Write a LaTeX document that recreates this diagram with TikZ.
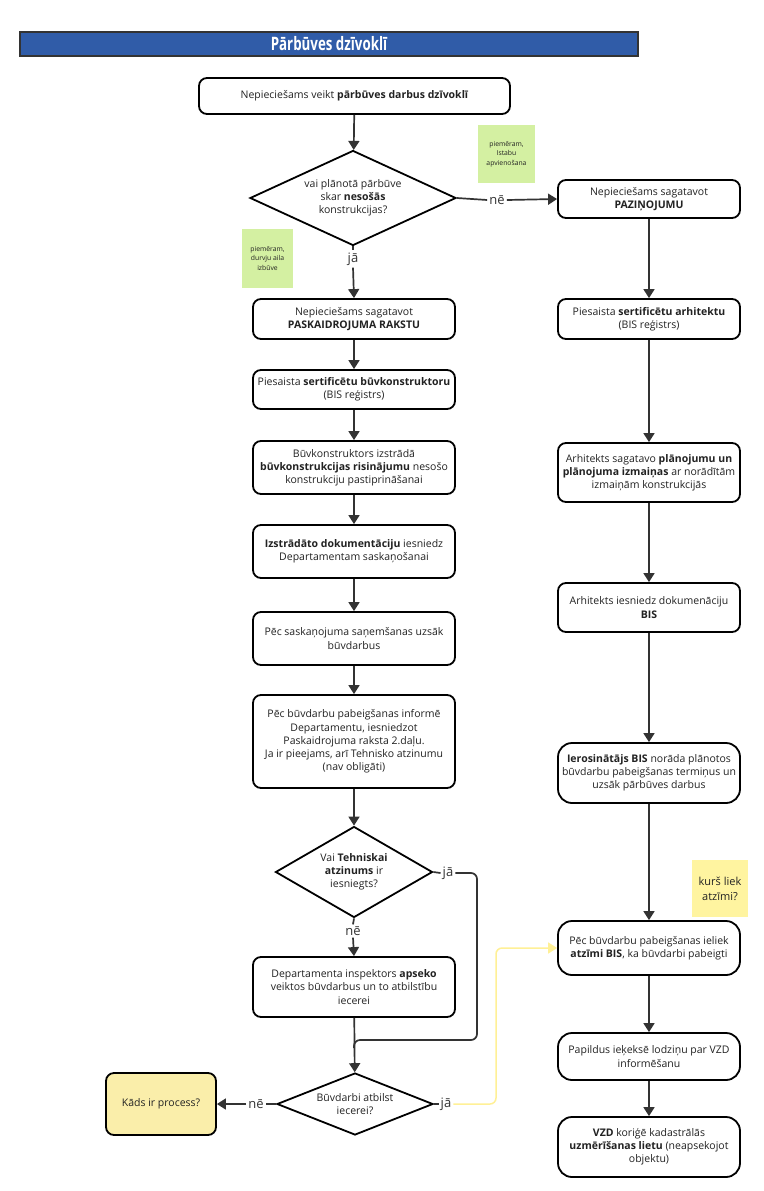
\documentclass[tikz,border=0pt]{standalone}
\usepackage{fontspec}
\setmainfont{Open Sans}
\newfontfamily\titlefont[FakeStretch=0.72]{Open Sans Bold}
\usetikzlibrary{shapes.geometric,arrows.meta}
\definecolor{titleblue}{RGB}{48,92,168}
\definecolor{ink}{RGB}{34,34,34}
\definecolor{arr}{RGB}{51,51,51}
\definecolor{notegreen}{RGB}{212,240,162}
\definecolor{noteyellow}{RGB}{255,244,160}
\definecolor{boxyellow}{RGB}{250,238,170}
\definecolor{lineyellow}{RGB}{255,240,150}
\begin{document}
\begin{tikzpicture}[x=1pt,y=-1pt,
  every node/.style={text=ink},
  bx/.style={draw=black,line width=1.8pt,rounded corners=8pt,fill=white,align=center,inner sep=0pt,font=\fontsize{10.5}{13.2}\selectfont},
  bxr/.style={bx,rounded corners=14pt},
  dia/.style={draw=black,line width=1.8pt,diamond,aspect=2,inner sep=0pt,align=center,fill=white,font=\fontsize{10.5}{13.2}\selectfont},
  note/.style={fill=notegreen,align=center,inner sep=0pt,font=\fontsize{6.8}{9.5}\selectfont},
  lbl/.style={font=\fontsize{13}{15}\selectfont,inner sep=2pt,text=arr},
  conn/.style={draw=arr,line width=1.7pt},
  arw/.style={conn,-{Triangle[length=9pt,width=11pt]}},
]
\useasboundingbox (0,0) rectangle (763,1191);
\fill[white] (0,0) rectangle (763,1191);

% title
\node[draw=arr,line width=1.2pt,fill=titleblue,minimum width=618pt,minimum height=24pt,inner sep=0pt,font=\titlefont\fontsize{18.5}{20}\selectfont,text=white] (title) at (329,44) {Pārbūves dzīvoklī};

% left column
\node[bx,minimum width=311pt,minimum height=36pt] (b1) at (354.5,96) {Nepieciešams veikt \textbf{pārbūves darbus dzīvoklī}};
\node[dia,minimum width=206pt,minimum height=95pt] (d1) at (353,198) {vai plānotā pārbūve\\skar \textbf{nesošās}\\konstrukcijas?};
\node[bx,minimum width=202pt,minimum height=40pt] (L1) at (354,319) {Nepieciešams sagatavot\\\textbf{PASKAIDROJUMA RAKSTU}};
\node[bx,minimum width=202pt,minimum height=39pt] (L2) at (354,389.5) {Piesaista \textbf{sertificētu būvkonstruktoru}\\(BIS reģistrs)};
\node[bx,minimum width=202pt,minimum height=53pt] (L3) at (354,467.5) {Būvkonstruktors izstrādā\\\textbf{būvkonstrukcijas risinājumu} nesošo\\konstrukciju pastiprināšanai};
\node[bx,minimum width=202pt,minimum height=53pt] (L4) at (354,551.5) {\textbf{Izstrādāto dokumentāciju} iesniedz\\Departamentam saskaņošanai};
\node[bx,minimum width=202pt,minimum height=53pt] (L5) at (354,638.5) {Pēc saskaņojuma saņemšanas uzsāk\\būvdarbus};
\node[bx,minimum width=202pt,minimum height=93pt] (L6) at (354,741.5) {Pēc būvdarbu pabeigšanas informē\\Departamentu, iesniedzot\\Paskaidrojuma raksta 2.daļu.\\Ja ir pieejams, arī Tehnisko atzinumu\\(nav obligāti)};
\node[dia,minimum width=157pt,minimum height=91pt] (d2) at (354,872) {Vai \textbf{Tehniskai}\\\textbf{atzinums} ir\\iesniegts?};
\node[bx,minimum width=202pt,minimum height=60pt] (L7) at (354,987) {Departamenta inspektors \textbf{apseko}\\veiktos būvdarbus un to atbilstību\\iecerei};
\node[dia,minimum width=156pt,minimum height=62pt] (d3) at (355,1104) {Būvdarbi atbilst\\iecerei?};
\node[bx,fill=boxyellow,minimum width=110pt,minimum height=62pt] (kads) at (161,1104) {Kāds ir process?};

% right column
\node[bx,minimum width=182pt,minimum height=38pt] (R1) at (649,199) {Nepieciešams sagatavot\\\textbf{PAZIŅOJUMU}};
\node[bx,minimum width=182pt,minimum height=40pt] (R2) at (649,319) {Piesaista \textbf{sertificētu arhitektu}\\(BIS reģistrs)};
\node[bx,minimum width=182pt,minimum height=59pt] (R3) at (649,472.5) {Arhitekts sagatavo \textbf{plānojumu un}\\\textbf{plānojuma izmaiņas} ar norādītām\\izmaiņām konstrukcijās};
\node[bx,minimum width=182pt,minimum height=49pt] (R4) at (649,607.5) {Arhitekts iesniedz dokumenāciju\\\textbf{BIS}};
\node[bxr,minimum width=182pt,minimum height=60pt] (R5) at (649,773) {\textbf{Ierosinātājs BIS} norāda plānotos\\būvdarbu pabeigšanas termiņus un\\uzsāk pārbūves darbus};
\node[bxr,minimum width=182pt,minimum height=54pt] (R6) at (649,948) {Pēc būvdarbu pabeigšanas ieliek\\\textbf{atzīmi BIS}, ka būvdarbi pabeigti};
\node[bxr,minimum width=182pt,minimum height=47pt] (R7) at (649,1056.5) {Papildus ieķeksē lodziņu par VZD\\informēšanu};
\node[bxr,minimum width=182pt,minimum height=60pt] (R8) at (649,1147) {\textbf{VZD} koriģē kadastrālās\\\textbf{uzmērīšanas lietu} (neapsekojot\\objektu)};

% notes
\node[note,minimum width=57pt,minimum height=58pt] (n1) at (506.5,154) {piemēram,\\Istabu\\apvienošana};
\node[note,minimum width=51pt,minimum height=59pt] (n2) at (267.5,258.5) {piemēram,\\durvju aila\\izbūve};
\node[note,fill=noteyellow,minimum width=56pt,minimum height=57pt,font=\fontsize{11}{15}\selectfont] (n3) at (720,888.5) {kurš liek\\atzīmi?};

% labels
\node[lbl] (ne1) at (497,200) {nē};
\node[lbl] (ja1) at (353,259) {jā};
\node[lbl] (ja2) at (448,873) {jā};
\node[lbl] (ne2) at (353,931) {nē};
\node[lbl] (ne3) at (256,1104) {nē};
\node[lbl] (ja3) at (446,1104) {jā};

\coordinate (c2a) at (477,873);
\coordinate (c2b) at (477,1040);
\coordinate (c2c) at (354,1040);
\coordinate (c3a) at (496,1104);
\coordinate (c3b) at (496,948);

% connectors
\draw[arw] (b1) -- (d1);
\draw[conn] (d1.east) -- (ne1.west);
\draw[arw] (ne1.east) -- (R1.west);
\draw[conn] (d1.south) -- (ja1.north);
\draw[arw] (ja1.south) -- (L1.north);
\draw[arw] (L1) -- (L2);
\draw[arw] (L2) -- (L3);
\draw[arw] (L3) -- (L4);
\draw[arw] (L4) -- (L5);
\draw[arw] (L5) -- (L6);
\draw[arw] (L6) -- (d2);
\draw[conn] (d2.east) -- (ja2.west);
\draw[conn,rounded corners=6pt] (ja2.east) -- (c2a) -- (c2b) -- (c2c) -- ([yshift=-8pt]c2c);
\draw[conn] (d2.south) -- (ne2.north);
\draw[arw] (ne2.south) -- (L7.north);
\draw[arw] (L7) -- (d3);
\draw[conn] (d3.west) -- (ne3.east);
\draw[arw] (ne3.west) -- (kads.east);
\draw[conn] (d3.east) -- (ja3.west);
\draw[draw=lineyellow,line width=1.5pt,rounded corners=6pt,-{Triangle[length=9pt,width=11pt]}] (ja3.east) -- (c3a) -- (c3b) -- (R6.west);

\draw[arw] (R1) -- (R2);
\draw[arw] (R2) -- (R3);
\draw[arw] (R3) -- (R4);
\draw[arw] (R4) -- (R5);
\draw[arw] (R5) -- (R6);
\draw[arw] (R6) -- (R7);
\draw[arw] (R7) -- (R8);
\end{tikzpicture}
\end{document}
